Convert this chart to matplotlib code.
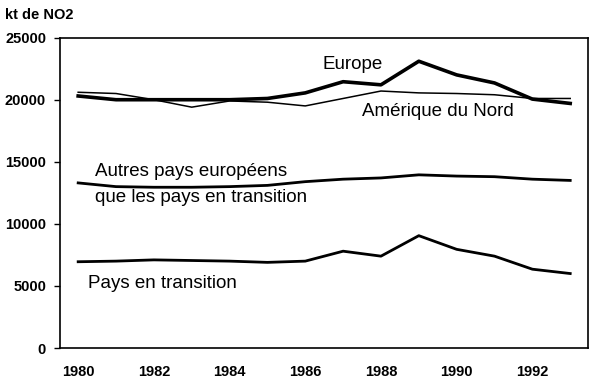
import matplotlib.pyplot as plt

plt.rcParams['font.family'] = ['Liberation Sans', 'DejaVu Sans']

years = list(range(1980, 1994))
europe = [20300, 20000, 20000, 20000, 20000, 20100, 20550, 21450, 21200, 23100, 22000, 21350, 20050, 19700]
amerique = [20600, 20500, 20000, 19400, 19900, 19800, 19500, 20100, 20700, 20550, 20500, 20400, 20100, 20100]
autres = [13300, 13000, 12950, 12950, 13000, 13100, 13400, 13600, 13700, 13950, 13850, 13800, 13600, 13500]
transition = [6950, 7000, 7100, 7050, 7000, 6900, 7000, 7800, 7400, 9050, 7950, 7400, 6350, 6000]

fig = plt.figure(figsize=(6, 3.88), dpi=100)
ax = fig.add_axes([0.1, 0.103, 0.88, 0.8])

ax.plot(years, europe, color='black', lw=2.6)
ax.plot(years, amerique, color='black', lw=1.1)
ax.plot(years, autres, color='black', lw=2.0)
ax.plot(years, transition, color='black', lw=2.0)

ax.set_xlim(1979.52, 1993.47)
ax.set_ylim(0, 25000)
ax.set_xticks(range(1980, 1993, 2))
ax.set_yticks(range(0, 25001, 5000))
ax.tick_params(axis='x', length=0, pad=12)
ax.tick_params(axis='y', length=4, width=1, pad=6)
for lab in ax.get_xticklabels() + ax.get_yticklabels():
    lab.set_fontweight('bold')
    lab.set_fontsize(10.5)
for s in ax.spines.values():
    s.set_linewidth(1.2)

fs = 13.5
ax.text(1986.45, 22800, "Europe", fontsize=fs, ha='left', va='center')
ax.text(1987.5, 19050, "Amérique du Nord", fontsize=fs, ha='left', va='center')
ax.text(1980.45, 14200, "Autres pays européens", fontsize=fs, ha='left', va='center')
ax.text(1980.45, 12100, "que les pays en transition", fontsize=fs, ha='left', va='center')
ax.text(1980.25, 5200, "Pays en transition", fontsize=fs, ha='left', va='center')

fig.text(0.008, 0.962, "kt de NO2", fontsize=10.5, fontweight='bold', ha='left', va='center')

fig.savefig('out.png', dpi=100)
